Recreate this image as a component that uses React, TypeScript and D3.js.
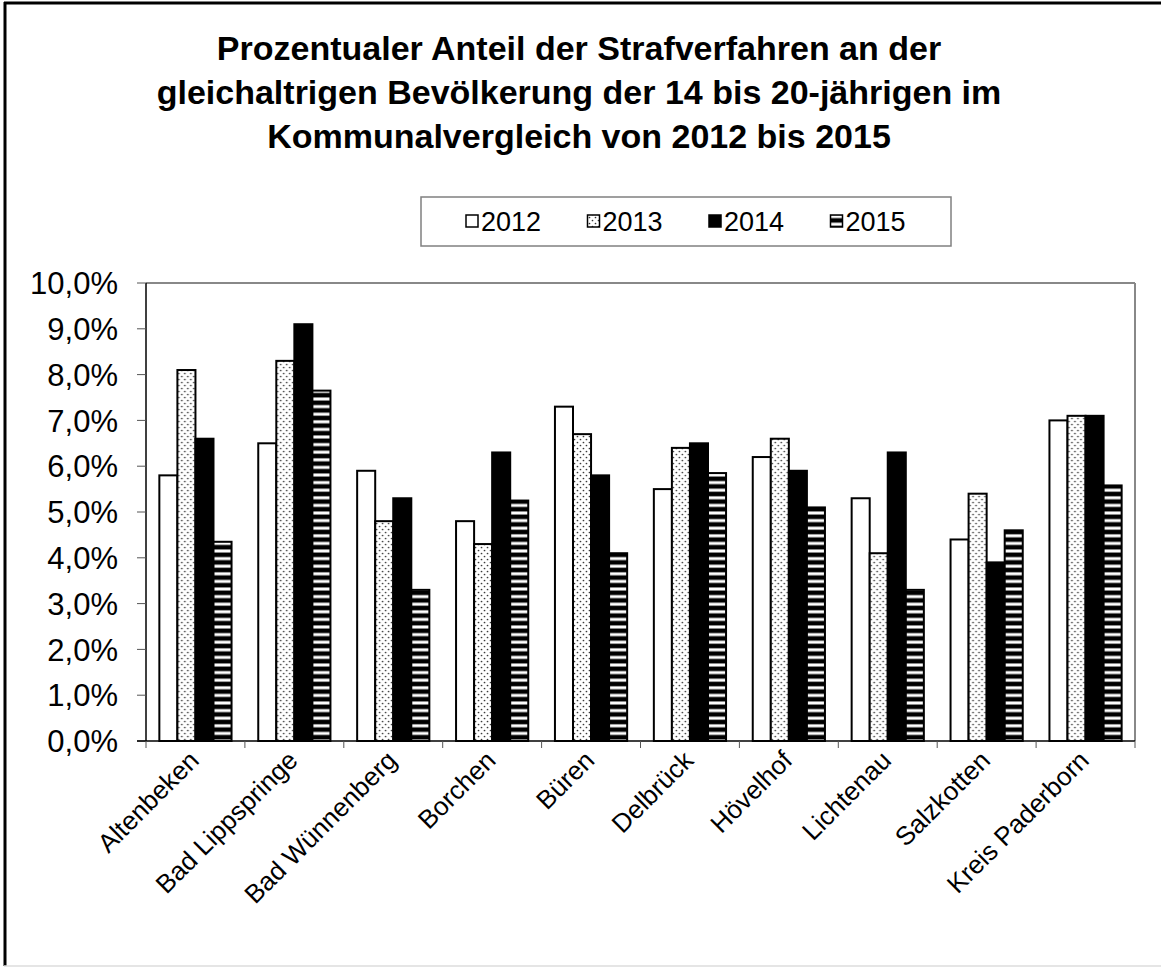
import { useMemo } from 'react';
import * as d3 from 'd3';

const categories = [
  'Altenbeken',
  'Bad Lippspringe',
  'Bad Wünnenberg',
  'Borchen',
  'Büren',
  'Delbrück',
  'Hövelhof',
  'Lichtenau',
  'Salzkotten',
  'Kreis Paderborn',
];

const years = ['2012', '2013', '2014', '2015'];

// values in percent, one array per year
const values2012 = [5.8, 6.5, 5.9, 4.8, 7.3, 5.5, 6.2, 5.3, 4.4, 7.0];
const values2013 = [8.1, 8.3, 4.8, 4.3, 6.7, 6.4, 6.6, 4.1, 5.4, 7.1];
const values2014 = [6.6, 9.1, 5.3, 6.3, 5.8, 6.5, 5.9, 6.3, 3.9, 7.1];
const values2015 = [4.35, 7.65, 3.3, 5.25, 4.1, 5.85, 5.1, 3.3, 4.6, 5.58];

const yTicks = [0, 1, 2, 3, 4, 5, 6, 7, 8, 9, 10];

const titleLines = [
  'Prozentualer Anteil der Strafverfahren an der',
  'gleichaltrigen Bevölkerung der 14 bis 20-jährigen im',
  'Kommunalvergleich von 2012 bis 2015',
];

const W = 1161;
const H = 967;
const plot = { left: 146, right: 1135, top: 283, bottom: 741 };
const FONT = 'Liberation Sans, Arial, Helvetica, sans-serif';

const fills: Record<string, string> = {
  '2012': '#ffffff',
  '2013': 'url(#dots)',
  '2014': '#000000',
  '2015': 'url(#stripes)',
};

const fmt = (v: number) => v.toFixed(1).replace('.', ',') + '%';

const App = () => {
  const series = [values2012, values2013, values2014, values2015];

  const x = useMemo(
    () =>
      d3
        .scaleBand<string>()
        .domain(categories)
        .range([plot.left, plot.right])
        .paddingInner(0.27)
        .paddingOuter(0.135),
    []
  );
  const xs = useMemo(
    () => d3.scaleBand<string>().domain(years).range([0, x.bandwidth()]).padding(0),
    [x]
  );
  const y = useMemo(
    () => d3.scaleLinear().domain([0, 10]).range([plot.bottom, plot.top]),
    []
  );

  const step = x.step();

  return (
    <svg
      width={W}
      height={H}
      style={{ position: 'absolute', left: 0, top: 0, display: 'block', background: '#fff' }}
      fontFamily={FONT}
    >
      <defs>
        <pattern id='dots' width={6} height={6} patternUnits='userSpaceOnUse'>
          <rect width={6} height={6} fill='#fff' />
          <circle cx={1.5} cy={1.5} r={0.85} fill='#333' />
          <circle cx={4.5} cy={4.5} r={0.85} fill='#333' />
        </pattern>
        <pattern id='stripes' width={8} height={7.6} patternUnits='userSpaceOnUse'>
          <rect width={8} height={7.6} fill='#000' />
          <rect y={2.3} width={8} height={3} fill='#fff' />
        </pattern>
      </defs>

      {/* outer frame */}
      <line x1={5} y1={2} x2={5} y2={966} stroke='#000' strokeWidth={3} />
      <line x1={4} y1={3} x2={W} y2={3} stroke='#000' strokeWidth={3} />
      <line x1={4} y1={966} x2={W} y2={966} stroke='#ddd' strokeWidth={1.5} />

      {/* title */}
      {titleLines.map((t, i) => (
        <text
          key={i}
          x={579}
          y={60 + i * 44}
          textAnchor='middle'
          fontSize={34}
          fontWeight='bold'
        >
          {t}
        </text>
      ))}

      {/* legend */}
      <rect x={421} y={197} width={530} height={49} fill='#fff' stroke='#808080' strokeWidth={1.5} />
      {years.map((yr, i) => {
        const lx = 466 + i * 121.5;
        return (
          <g key={yr}>
            <rect x={lx} y={215} width={12} height={12} fill={fills[yr]} stroke='#000' strokeWidth={1.5} />
            <text x={lx + 15} y={231} fontSize={27}>
              {yr}
            </text>
          </g>
        );
      })}

      {/* plot frame: top & right grey */}
      <line x1={plot.left} y1={plot.top} x2={plot.right} y2={plot.top} stroke='#888' strokeWidth={2} />
      <line x1={plot.right} y1={plot.top} x2={plot.right} y2={plot.bottom} stroke='#888' strokeWidth={2} />

      {/* bars */}
      {categories.map((c, ci) => (
        <g key={c} transform={`translate(${x(c)},0)`}>
          {years.map((yr, si) => {
            const v = series[si][ci];
            return (
              <rect
                key={yr}
                x={xs(yr)}
                y={y(v)}
                width={xs.bandwidth()}
                height={y(0) - y(v)}
                fill={fills[yr]}
                stroke='#000'
                strokeWidth={2}
              />
            );
          })}
        </g>
      ))}

      {/* y axis */}
      <line x1={plot.left} y1={plot.top} x2={plot.left} y2={plot.bottom} stroke='#000' strokeWidth={1.5} />
      {yTicks.map((t) => (
        <g key={t}>
          <line x1={plot.left - 9} x2={plot.left} y1={y(t)} y2={y(t)} stroke='#555' strokeWidth={1} />
          <text x={118} y={y(t)} dy='0.36em' textAnchor='end' fontSize={31}>
            {fmt(t)}
          </text>
        </g>
      ))}

      {/* x axis */}
      <line x1={plot.left - 9} x2={plot.right} y1={plot.bottom} y2={plot.bottom} stroke='#000' strokeWidth={1.5} />
      {d3.range(categories.length + 1).map((i) => (
        <line
          key={i}
          x1={plot.left + i * step}
          x2={plot.left + i * step}
          y1={plot.bottom}
          y2={plot.bottom + 7}
          stroke='#555'
          strokeWidth={1}
        />
      ))}
      {categories.map((c) => {
        const cx = (x(c) ?? 0) + x.bandwidth() / 2;
        return (
          <text
            key={c}
            transform={`translate(${cx + 5},${plot.bottom + 21}) rotate(-45)`}
            textAnchor='end'
            fontSize={26}
          >
            {c}
          </text>
        );
      })}
    </svg>
  );
};

export default App;
